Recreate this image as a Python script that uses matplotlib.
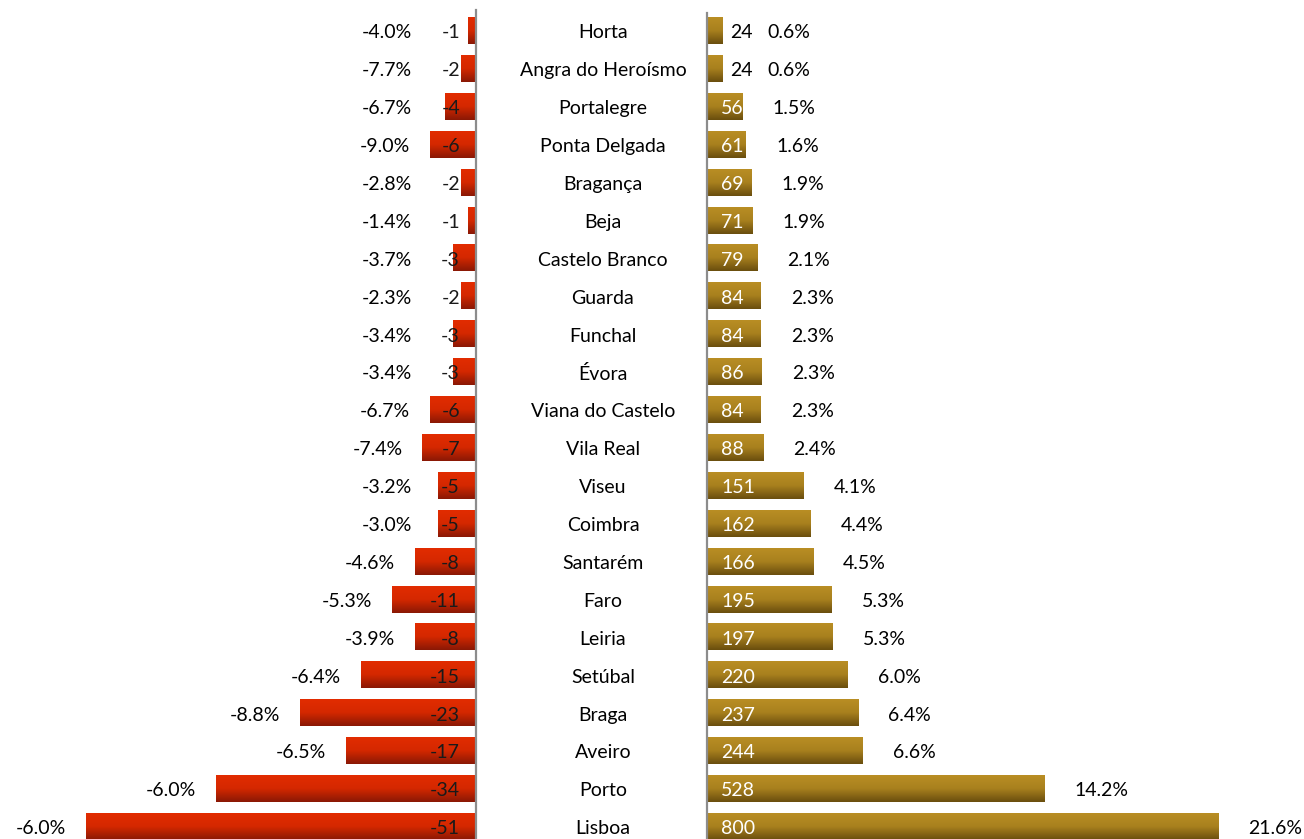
import numpy as np
import matplotlib.pyplot as plt
from matplotlib.colors import LinearSegmentedColormap
from matplotlib.transforms import blended_transform_factory

plt.rcParams['font.family'] = ['Lato', 'DejaVu Sans']

regions = ["Horta", "Angra do Heroísmo", "Portalegre", "Ponta Delgada", "Bragança",
           "Beja", "Castelo Branco", "Guarda", "Funchal", "Évora", "Viana do Castelo",
           "Vila Real", "Viseu", "Coimbra", "Santarém", "Faro", "Leiria", "Setúbal",
           "Braga", "Aveiro", "Porto", "Lisboa"]
change = [-1, -2, -4, -6, -2, -1, -3, -2, -3, -3, -6, -7, -5, -5, -8, -11, -8, -15,
          -23, -17, -34, -51]
change_pct = [-4.0, -7.7, -6.7, -9.0, -2.8, -1.4, -3.7, -2.3, -3.4, -3.4, -6.7, -7.4,
              -3.2, -3.0, -4.6, -5.3, -3.9, -6.4, -8.8, -6.5, -6.0, -6.0]
totals = [24, 24, 56, 61, 69, 71, 79, 84, 84, 86, 84, 88, 151, 162, 166, 195, 197,
          220, 237, 244, 528, 800]
share = [0.6, 0.6, 1.5, 1.6, 1.9, 1.9, 2.1, 2.3, 2.3, 2.3, 2.3, 2.4, 4.1, 4.4, 4.5,
         5.3, 5.3, 6.0, 6.4, 6.6, 14.2, 21.6]

W, H = 1304, 839
fig = plt.figure(figsize=(W / 100, H / 100), dpi=100)

# left panel: baseline at x=476px, right panel: baseline at x=707px
left_px, right_px = 476, 707
ax_l = fig.add_axes([0, 0, left_px / W, 1])
ax_r = fig.add_axes([right_px / W, 0, 1 - right_px / W, 1])

px_l = 7.65   # pixels per unit on the left
px_r = 0.639  # pixels per unit on the right

row_top, row_step = 31, 37.9
ylim = ((H - row_top) / row_step, -row_top / row_step)

red = LinearSegmentedColormap.from_list('red', ['#e22c00', '#d42800', '#8a1805'])
gold = LinearSegmentedColormap.from_list('gold', ['#b98e24', '#a8801e', '#6a4e0e'])
grad = np.linspace(0, 1, 64).reshape(-1, 1)
bh = 0.69

y = np.arange(len(regions))
for i in y:
    ax_l.imshow(grad, cmap=red, aspect='auto', interpolation='bilinear',
                extent=[change[i], 0, i + bh / 2, i - bh / 2], zorder=2)
    ax_r.imshow(grad, cmap=gold, aspect='auto', interpolation='bilinear',
                extent=[0, totals[i], i + bh / 2, i - bh / 2], zorder=2)
ax_l.set_xlim(-left_px / px_l, 0)
ax_r.set_xlim(0, (W - right_px) / px_r)
for ax in (ax_l, ax_r):
    ax.set_ylim(*ylim)
    ax.axis('off')

ax_l.axvline(0, ymin=0, ymax=1 - 10 / H, color='#8c8c8c', lw=1.6, zorder=3,
             clip_on=False)
ax_r.axvline(0, ymin=0, ymax=1 - 13 / H, color='#8c8c8c', lw=1.6, zorder=3,
             clip_on=False)

fs = 14
dy = 0.05  # text sits a touch below the bar centre
for i in y:
    # left: change values and percent change
    ax_l.text(-16 / px_l, i + dy, str(change[i]), ha='right', va='center',
              fontsize=fs, color='#1a1a1a', zorder=4)
    xl = min(change[i] - 20 / px_l, -(left_px - 412) / px_l)
    ax_l.text(xl, i + dy, f"{change_pct[i]:.1f}%", ha='right', va='center',
              fontsize=fs, color='black')

    # right: totals and share
    if totals[i] < 40:
        ax_r.text(totals[i] + 8 / px_r, i + dy, str(totals[i]), ha='left', va='center',
                  fontsize=fs, color='black', zorder=4)
    else:
        ax_r.text(14 / px_r, i + dy, str(totals[i]), ha='left', va='center',
                  fontsize=fs, color='white', zorder=4)
    xr = max(totals[i] + 30 / px_r, (767 - right_px) / px_r)
    ax_r.text(xr, i + dy, f"{share[i]:.1f}%", ha='left', va='center',
              fontsize=fs, color='black')

# region names centred between the two panels
trans = blended_transform_factory(fig.transFigure, ax_l.transData)
for i in y:
    ax_l.text(603 / W, i + dy, regions[i], transform=trans, ha='center', va='center',
              fontsize=fs, color='black', clip_on=False)

fig.savefig('out.png', dpi=100)
